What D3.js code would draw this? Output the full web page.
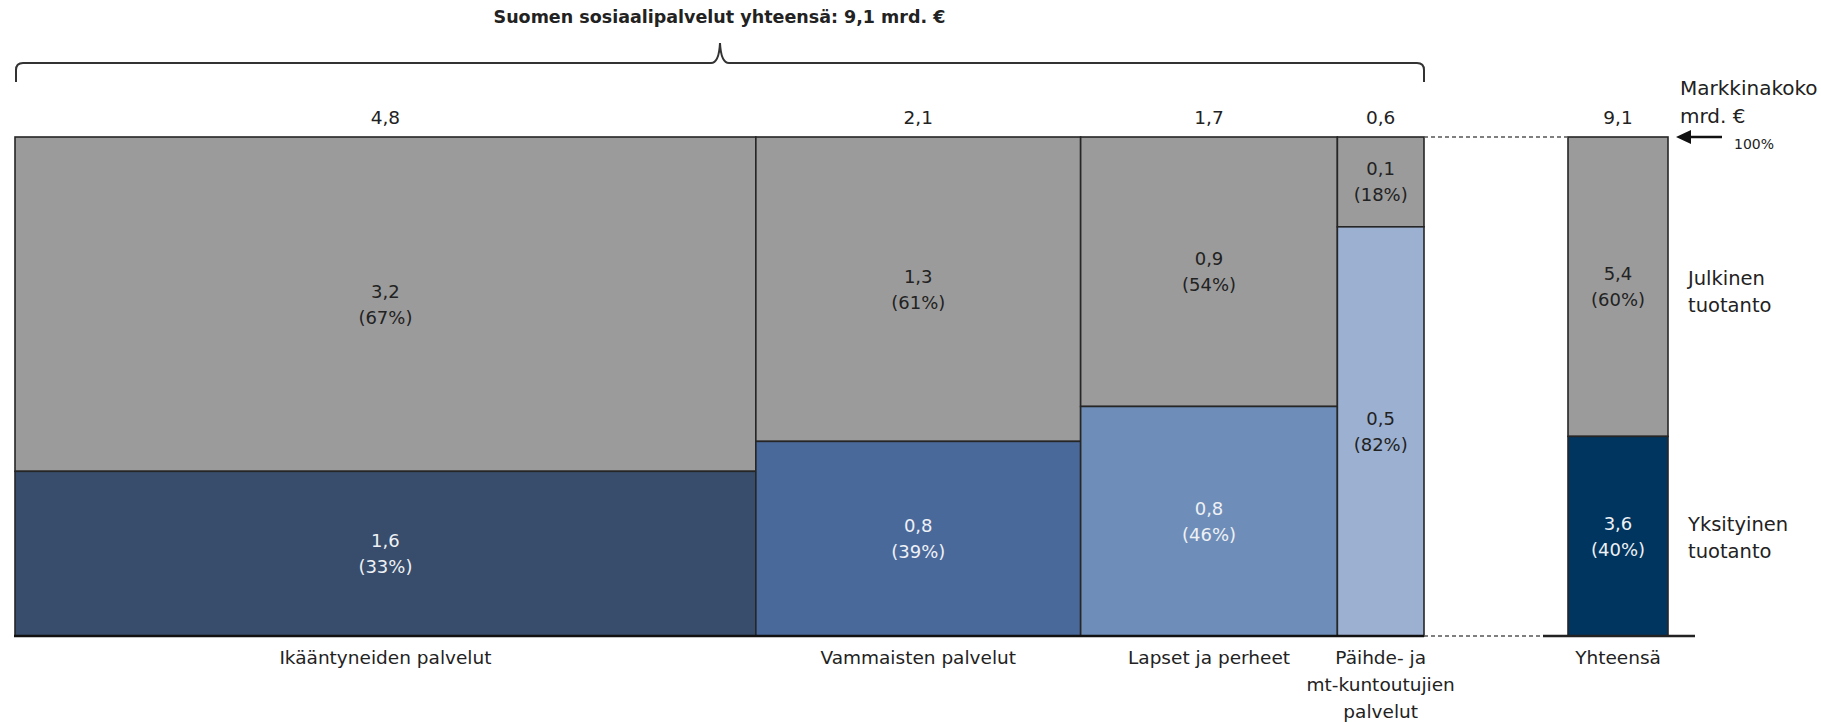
<!DOCTYPE html>
<html>
<head>
<meta charset="utf-8">
<script src="https://cdn.jsdelivr.net/npm/d3@7"></script>
<style>
body { margin: 0; background: #fff; }
text { font-family: "DejaVu Sans", sans-serif; fill: #222; }
</style>
</head>
<body>
<div id="chart"></div>
<script>
// data
var categoryLines = [
	["Ikääntyneiden palvelut"],
	["Vammaisten palvelut"],
	["Lapset ja perheet"],
	["Päihde- ja", "mt-kuntoutujien", "palvelut"]
];
var marketSize = [4.79, 2.10, 1.66, 0.56];   // column widths (mrd. €)
var marketLabel = [4.8, 2.1, 1.7, 0.6];
var publicValue = [3.2, 1.3, 0.9, 0.1];
var privateValue = [1.6, 0.8, 0.8, 0.5];
var publicPct = [67, 61, 54, 18];
var privatePct = [33, 39, 46, 82];
var privateColors = ["#374d6b", "#4a699b", "#6e8eb9", "#9cb1d1"];
var privateText = ["#eef1f5", "#eef1f5", "#eef1f5", "#222"];

var totalValue = 9.1;
var totalPublic = 5.4, totalPrivate = 3.6;
var totalPublicPct = 60, totalPrivatePct = 40;

function init() {
	var w = 1821;
	var h = 722;
	var grey = "#9b9b9b";
	var edge = "#262626";

	var fi = d3.formatLocale({decimal: ",", thousands: " ", grouping: [3], currency: ["", " €"]});
	var fmt = fi.format(".1f");

	var xScale = d3.scaleLinear()
		.domain([0, d3.sum(marketSize)])
		.range([15, 1424]);

	var yScale = d3.scaleLinear()
		.domain([0, 100])
		.range([636, 137]);

	// total column sits on its own little band
	var totScale = d3.scaleLinear().domain([0, 1]).range([1568, 1668]);

	var starts = [0].concat(Array.from(d3.cumsum(marketSize))).slice(0, marketSize.length);

	var svg = d3.select("#chart")
		.append("svg")
		.attr("width", w)
		.attr("height", h);

	svg.append("defs").append("clipPath").attr("id", "clipR")
		.append("rect").attr("x", 0).attr("y", 0).attr("width", 1818).attr("height", h);

	// title + brace
	svg.append("text")
		.attr("x", xScale(d3.sum(marketSize) / 2))
		.attr("y", 23)
		.attr("text-anchor", "middle")
		.style("font-weight", "bold")
		.style("font-size", "17.5px")
		.text("Suomen sosiaalipalvelut yhteensä: " + fmt(totalValue) + " mrd. €");

	var bx0 = xScale(0) + 1, bx1 = xScale(d3.sum(marketSize)), tip = (bx0 + bx1) / 2;
	var p = d3.path();
	p.moveTo(bx0, 82);
	p.lineTo(bx0, 70);
	p.quadraticCurveTo(bx0, 63, bx0 + 7, 63);
	p.lineTo(tip - 9, 63);
	p.quadraticCurveTo(tip - 1, 63, tip, 43);
	p.quadraticCurveTo(tip + 1, 63, tip + 9, 63);
	p.lineTo(bx1 - 7, 63);
	p.quadraticCurveTo(bx1, 63, bx1, 70);
	p.lineTo(bx1, 82);
	svg.append("path")
		.attr("d", p.toString())
		.attr("fill", "none")
		.attr("stroke", "#333")
		.attr("stroke-width", 2);

	var cols = svg.selectAll("g.col")
		.data(marketSize)
		.enter()
		.append("g")
		.attr("class", "col");

	// public (grey) part
	cols.append("rect")
		.attr("x", function(d, i) { return xScale(starts[i]); })
		.attr("y", yScale(100))
		.attr("width", function(d) { return xScale(d) - xScale(0); })
		.attr("height", function(d, i) { return yScale(privatePct[i]) - yScale(100); })
		.attr("fill", grey)
		.attr("stroke", edge)
		.attr("stroke-width", 1.6);

	// private part
	cols.append("rect")
		.attr("x", function(d, i) { return xScale(starts[i]); })
		.attr("y", function(d, i) { return yScale(privatePct[i]); })
		.attr("width", function(d) { return xScale(d) - xScale(0); })
		.attr("height", function(d, i) { return yScale(0) - yScale(privatePct[i]); })
		.attr("fill", function(d, i) { return privateColors[i]; })
		.attr("stroke", edge)
		.attr("stroke-width", 1.6);

	function mid(i) { return xScale(starts[i] + marketSize[i] / 2); }

	// segment labels
	function segLabel(g, x, yMid, val, pct, col) {
		g.append("text")
			.attr("x", x).attr("y", yMid - 13)
			.attr("text-anchor", "middle")
			.attr("dominant-baseline", "central")
			.style("font-size", "18px")
			.style("fill", col)
			.text(fmt(val));
		g.append("text")
			.attr("x", x).attr("y", yMid + 13)
			.attr("text-anchor", "middle")
			.attr("dominant-baseline", "central")
			.style("font-size", "18px")
			.style("fill", col)
			.text("(" + pct + "%)");
	}

	cols.each(function(d, i) {
		var g = d3.select(this);
		segLabel(g, mid(i), (yScale(100) + yScale(privatePct[i])) / 2, publicValue[i], publicPct[i], "#222");
		segLabel(g, mid(i), (yScale(privatePct[i]) + yScale(0)) / 2, privateValue[i], privatePct[i], privateText[i]);

		g.append("text")
			.attr("x", mid(i))
			.attr("y", 124)
			.attr("text-anchor", "middle")
			.style("font-size", "18.5px")
			.text(fmt(marketLabel[i]));

		g.selectAll("text.cat")
			.data(categoryLines[i])
			.enter()
			.append("text")
			.attr("class", "cat")
			.attr("x", mid(i))
			.attr("y", function(t, k) { return 664 + k * 27; })
			.attr("text-anchor", "middle")
			.style("font-size", "18.5px")
			.text(function(t) { return t; });
	});

	// total column
	var tot = svg.append("g");
	tot.append("rect")
		.attr("x", totScale(0)).attr("y", yScale(100))
		.attr("width", totScale(1) - totScale(0))
		.attr("height", yScale(totalPrivatePct) - yScale(100))
		.attr("fill", grey).attr("stroke", edge).attr("stroke-width", 1.6);
	tot.append("rect")
		.attr("x", totScale(0)).attr("y", yScale(totalPrivatePct))
		.attr("width", totScale(1) - totScale(0))
		.attr("height", yScale(0) - yScale(totalPrivatePct))
		.attr("fill", "#00355f").attr("stroke", edge).attr("stroke-width", 1.6);
	var tmid = totScale(0.5);
	segLabel(tot, tmid, (yScale(100) + yScale(totalPrivatePct)) / 2, totalPublic, totalPublicPct, "#222");
	segLabel(tot, tmid, (yScale(totalPrivatePct) + yScale(0)) / 2, totalPrivate, totalPrivatePct, "#eef1f5");
	tot.append("text")
		.attr("x", tmid).attr("y", 124)
		.attr("text-anchor", "middle")
		.style("font-size", "18.5px")
		.text(fmt(totalValue));
	tot.append("text")
		.attr("x", tmid).attr("y", 664)
		.attr("text-anchor", "middle")
		.style("font-size", "18.5px")
		.text("Yhteensä");

	// base lines and dashed connectors
	svg.append("line")
		.attr("x1", xScale(0) - 1).attr("x2", xScale(d3.sum(marketSize)))
		.attr("y1", yScale(0)).attr("y2", yScale(0))
		.attr("stroke", "#111").attr("stroke-width", 2.5);
	svg.append("line")
		.attr("x1", xScale(d3.sum(marketSize))).attr("x2", 1543)
		.attr("y1", yScale(0)).attr("y2", yScale(0))
		.attr("stroke", "#555").attr("stroke-width", 1.5)
		.attr("stroke-dasharray", "4,3");
	svg.append("line")
		.attr("x1", 1543).attr("x2", 1695)
		.attr("y1", yScale(0)).attr("y2", yScale(0))
		.attr("stroke", "#222").attr("stroke-width", 2.5);
	svg.append("line")
		.attr("x1", xScale(d3.sum(marketSize))).attr("x2", totScale(0))
		.attr("y1", yScale(100)).attr("y2", yScale(100))
		.attr("stroke", "#555").attr("stroke-width", 1.5)
		.attr("stroke-dasharray", "4,3");

	// right-hand annotations
	var ann = svg.append("g").attr("clip-path", "url(#clipR)");
	ann.append("text").attr("x", 1680).attr("y", 95).style("font-size", "20px").text("Markkinakoko");
	ann.append("text").attr("x", 1680).attr("y", 123).style("font-size", "20px").text("mrd. €");
	ann.append("line")
		.attr("x1", 1690).attr("x2", 1722)
		.attr("y1", yScale(100)).attr("y2", yScale(100))
		.attr("stroke", "#111").attr("stroke-width", 2.5);
	ann.append("path")
		.attr("d", "M1676," + yScale(100) + "l15,-7l0,14z")
		.attr("fill", "#111");
	ann.append("text").attr("x", 1734).attr("y", 149).style("font-size", "14px").text("100%");

	ann.append("text").attr("x", 1688).attr("y", 285).style("font-size", "19.5px").text("Julkinen");
	ann.append("text").attr("x", 1688).attr("y", 312).style("font-size", "19.5px").text("tuotanto");
	ann.append("text").attr("x", 1688).attr("y", 531).style("font-size", "19.5px").text("Yksityinen");
	ann.append("text").attr("x", 1688).attr("y", 558).style("font-size", "19.5px").text("tuotanto");
}

window.onload = init;
</script>
</body>
</html>
